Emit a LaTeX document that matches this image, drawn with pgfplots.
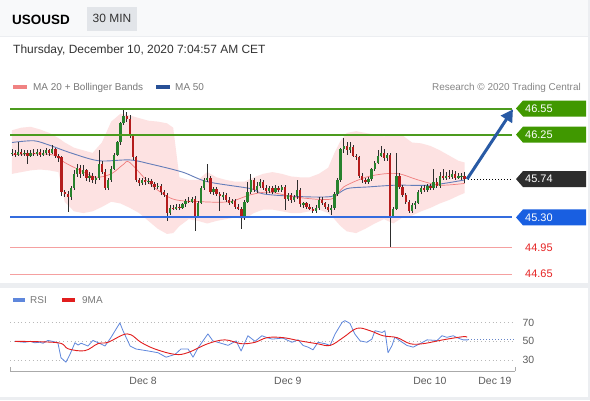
\documentclass[border=0pt]{standalone}
\usepackage{fontspec}
\setmainfont{Liberation Sans}
\usepackage{pgfplots}
\usepackage{pgfplotstable}
\pgfplotsset{compat=1.18}
\usetikzlibrary{arrows.meta}

\definecolor{bgframe}{RGB}{236,238,241}
\definecolor{headbg}{RGB}{248,249,250}
\definecolor{tagbg}{RGB}{226,229,233}
\definecolor{leg20}{RGB}{240,130,130}
\definecolor{leg50}{RGB}{40,80,150}
\definecolor{lvgreen}{RGB}{76,155,30}
\definecolor{boxgreen}{RGB}{64,152,0}
\definecolor{boxdark}{RGB}{45,45,45}
\definecolor{supportblue}{RGB}{52,108,222}
\definecolor{boxblue}{RGB}{25,95,225}
\definecolor{lvred}{RGB}{245,160,160}
\definecolor{txtred}{RGB}{230,35,35}
\definecolor{bbpink}{RGB}{253,226,226}
\definecolor{ma20}{RGB}{240,125,125}
\definecolor{ma50}{RGB}{100,125,185}
\definecolor{cup}{RGB}{40,130,45}
\definecolor{cdn}{RGB}{180,28,28}
\definecolor{wick}{RGB}{45,45,45}
\definecolor{arrowblue}{RGB}{40,90,165}
\definecolor{rsiblue}{RGB}{95,135,220}
\definecolor{rsired}{RGB}{225,30,30}
\definecolor{axisgray}{RGB}{170,170,170}
\definecolor{txtgray}{RGB}{120,120,120}
\definecolor{txtdark}{RGB}{51,51,51}

\newcommand{\lblfont}{\fontsize{11}{13}\selectfont}
\newcommand{\lvlbox}[3]{%
  \fill[#2] ([xshift=4bp]#1) -- ++(7bp,8bp) -- ++(63bp,0) -- ++(0,-16bp) -- ++(-63bp,0) -- cycle;
  \node[anchor=west, inner sep=0pt, text=white, font=\lblfont] at ([xshift=13bp]#1) {#3};}

% candles: index, open, high, low, close
\pgfplotstableread{
i o h l c
0 46.03 46.08 46.00 46.04
1 46.04 46.07 45.99 46.02
2 46.02 46.16 46.01 46.05
3 46.05 46.08 46.01 46.03
4 46.03 46.07 46.00 46.04
5 46.04 46.07 45.91 46.01
6 46.01 46.07 45.99 46.04
7 46.04 46.08 46.00 46.03
8 46.03 46.09 46.01 46.05
9 46.05 46.08 45.99 46.02
10 46.02 46.07 46.00 46.04
11 46.04 46.10 46.02 46.07
12 46.07 46.09 46.01 46.04
13 46.04 46.13 46.03 46.09
14 46.09 46.10 45.98 46.01
15 46.01 46.03 45.94 45.98
16 45.99 46.01 45.54 45.59
17 45.59 45.62 45.53 45.57
18 45.57 45.60 45.36 45.53
19 45.53 45.66 45.50 45.64
20 45.64 45.84 45.62 45.80
21 45.80 45.91 45.76 45.87
22 45.87 45.90 45.75 45.80
23 45.80 45.90 45.77 45.84
24 45.84 45.86 45.72 45.75
25 45.75 45.82 45.71 45.78
26 45.78 45.81 45.69 45.73
27 45.73 45.78 45.68 45.75
28 45.75 46.07 45.73 45.91
29 45.91 45.95 45.80 45.82
30 45.82 45.85 45.62 45.64
31 45.64 45.75 45.62 45.73
32 45.73 45.89 45.71 45.86
33 45.86 46.04 45.84 46.02
34 46.02 46.18 46.00 46.16
35 46.16 46.40 46.13 46.38
36 46.38 46.54 46.36 46.46
37 46.46 46.51 46.39 46.43
38 46.43 46.47 46.21 46.24
39 46.24 46.26 45.96 45.99
40 45.99 46.01 45.71 45.73
41 45.73 45.75 45.66 45.69
42 45.69 45.75 45.67 45.73
43 45.73 45.76 45.67 45.71
44 45.71 45.75 45.68 45.72
45 45.72 45.74 45.65 45.68
46 45.68 45.71 45.62 45.65
47 45.65 45.69 45.63 45.66
48 45.66 45.68 45.56 45.59
49 45.59 45.62 45.53 45.56
50 45.56 45.58 45.26 45.35
51 45.35 45.44 45.33 45.41
52 45.41 45.44 45.38 45.40
53 45.40 45.45 45.39 45.42
54 45.42 45.45 45.39 45.41
55 45.41 45.47 45.40 45.45
56 45.45 45.51 45.42 45.49
57 45.49 45.53 45.46 45.48
58 45.48 45.54 45.47 45.51
59 45.51 45.54 45.14 45.32
60 45.32 45.49 45.30 45.47
61 45.47 45.66 45.45 45.64
62 45.64 45.75 45.62 45.73
63 45.73 45.91 45.71 45.75
64 45.75 45.77 45.57 45.59
65 45.59 45.65 45.56 45.63
66 45.63 45.65 45.54 45.57
67 45.57 45.59 45.37 45.54
68 45.54 45.59 45.50 45.56
69 45.56 45.58 45.48 45.50
70 45.50 45.53 45.44 45.47
71 45.47 45.51 45.45 45.49
72 45.49 45.51 45.40 45.42
73 45.42 45.45 45.38 45.40
74 45.40 45.42 45.17 45.29
75 45.29 45.50 45.27 45.48
76 45.48 45.71 45.46 45.59
77 45.59 45.80 45.57 45.73
78 45.73 45.75 45.59 45.62
79 45.62 45.71 45.58 45.66
80 45.66 45.74 45.64 45.71
81 45.71 45.73 45.62 45.64
82 45.64 45.67 45.57 45.60
83 45.60 45.66 45.58 45.64
84 45.64 45.66 45.57 45.59
85 45.59 45.67 45.58 45.64
86 45.64 45.66 45.59 45.62
87 45.62 45.67 45.59 45.65
88 45.65 45.67 45.39 45.51
89 45.51 45.58 45.49 45.56
90 45.56 45.58 45.47 45.50
91 45.50 45.56 45.48 45.54
92 45.54 45.73 45.51 45.62
93 45.62 45.64 45.42 45.45
94 45.45 45.48 45.41 45.46
95 45.46 45.48 45.40 45.42
96 45.42 45.45 45.38 45.40
97 45.40 45.42 45.35 45.37
98 45.37 45.44 45.35 45.41
99 45.41 45.53 45.39 45.50
100 45.50 45.53 45.44 45.46
101 45.46 45.48 45.40 45.42
102 45.42 45.45 45.36 45.38
103 45.38 45.44 45.33 45.41
104 45.41 45.59 45.39 45.57
105 45.57 45.75 45.55 45.73
106 45.73 46.10 45.71 46.08
107 46.08 46.21 46.04 46.12
108 46.12 46.16 46.02 46.07
109 46.07 46.16 46.04 46.11
110 46.11 46.13 45.99 46.01
111 46.01 46.03 45.96 45.99
112 45.99 46.01 45.75 45.78
113 45.78 45.81 45.69 45.73
114 45.73 45.75 45.68 45.71
115 45.71 45.76 45.68 45.74
116 45.74 45.87 45.72 45.85
117 45.85 45.95 45.83 45.93
118 45.93 46.07 45.91 46.01
119 46.01 46.12 45.99 46.04
120 46.04 46.08 45.95 45.98
121 45.98 46.04 45.95 46.02
122 46.02 46.04 44.95 45.31
123 45.31 45.42 45.29 45.40
124 45.40 46.04 45.38 45.78
125 45.78 45.81 45.63 45.65
126 45.65 45.67 45.54 45.56
127 45.56 45.58 45.45 45.48
128 45.48 45.50 45.35 45.37
129 45.37 45.46 45.35 45.44
130 45.44 45.49 45.40 45.47
131 45.47 45.62 45.45 45.59
132 45.59 45.66 45.57 45.64
133 45.64 45.67 45.59 45.62
134 45.62 45.68 45.59 45.66
135 45.66 45.68 45.62 45.64
136 45.64 45.85 45.62 45.71
137 45.71 45.75 45.64 45.66
138 45.66 45.82 45.64 45.78
139 45.78 45.85 45.73 45.75
140 45.75 45.82 45.73 45.78
141 45.78 45.84 45.74 45.76
142 45.76 45.84 45.74 45.80
143 45.80 45.83 45.73 45.75
144 45.75 45.81 45.74 45.77
145 45.77 45.81 45.73 45.78
146 45.78 45.82 45.69 45.74
}\candles

\pgfplotstableread{
i v
0.9 50
2.5 49.5
4.1 49
6 50
7.3 48.5
9 49
10 48
11.6 51
13 50
14.8 48.5
15.8 32.4
17.4 27.7
18.7 36
20.3 48.5
21.3 46
22.3 48
24.5 45
26.1 51
28.4 47.6
30 45
31.9 54
34.8 69.8
35.8 61.4
38.1 45
40 41.8
43.9 39.7
47.1 37.8
49.7 33
52.6 36
54.5 41.8
56.8 41.8
58.4 33
60 42.9
63.2 58
64.8 50.5
67.4 48
69.7 45.7
72.3 50.5
73.9 39.7
76.1 56
78.4 50
80.6 56
82.3 54
83.9 52.4
87.4 53.5
90.3 49
92.3 51.6
93.9 45.6
95.5 43.8
97.1 40.9
98.7 49
101 47.5
102.6 45.6
104.2 57.8
106.5 70.4
107.4 72.2
109 69.3
110.6 57.8
112.3 50.5
114.5 49
116.1 52.4
117.1 61.4
119.4 59.5
120.3 61.4
121.3 37.8
122.6 45.6
123.5 54.5
125.2 50.5
127.4 45.6
129.4 43.8
131.6 47.5
133.9 51.6
137.1 50.9
138.7 56
140.3 54.3
142.3 56
143.9 53.5
145.5 51.6
147.1 51.6
}\rsi

\pgfplotstableread{
i v
1 50
14.8 48.5
18.1 42
23.5 40
27.7 47.5
31 49
35.8 57
38.4 57
41.6 49
46.1 41.8
52.6 36
56.8 38
63.2 47.5
68.7 51.6
73.9 47.5
78.4 49
82.3 54
87.4 54
92.9 50.5
98.4 47.5
102.6 45.6
106.8 54
111.3 64
115.5 61.4
119.7 56
124.2 54
128.4 47.5
132.6 47.5
139 51.6
145.5 55
146.8 54.3
}\rsima

\begin{document}
\begin{tikzpicture}[x=1bp,y=1bp]
\useasboundingbox (0,0) rectangle (590,400);
\fill[bgframe] (0,0) rectangle (590,400);
\fill[headbg] (0,364) rectangle (588,400);
\fill[white] (0,117) rectangle (588,363);
\fill[white] (0,3) rectangle (588,112);

% header
\node[anchor=base west, inner sep=0pt, text=black, font=\fontsize{13.5}{16}\selectfont\bfseries] at (12,375.5) {USOUSD};
\fill[tagbg] (87,369) rectangle (137,393);
\node[anchor=base, inner sep=0pt, text=txtdark, font=\fontsize{12}{14}\selectfont] at (112,377.5) {30 MIN};
\node[anchor=base west, inner sep=0pt, text=txtdark, font=\fontsize{12}{14}\selectfont] at (13,346.5) {Thursday, December 10, 2020 7:04:57 AM CET};

% legend of main panel
\fill[leg20] (13,311.5) rectangle (27,315);
\node[anchor=base west, inner sep=0pt, text=txtgray, font=\fontsize{10}{12}\selectfont] at (33,310) {MA 20 + Bollinger Bands};
\fill[leg50] (156,311.5) rectangle (170,315);
\node[anchor=base west, inner sep=0pt, text=txtgray, font=\fontsize{10}{12}\selectfont] at (175,310) {MA 50};
\node[anchor=base east, inner sep=0pt, text=txtgray!90, font=\fontsize{10}{12}\selectfont] at (581,310) {Research \textcopyright{} 2020 Trading Central};

% main price axis
\begin{axis}[
  at={(10bp,118.5bp)}, anchor=south west, scale only axis,
  width=502bp, height=185bp,
  xmin=-0.645, xmax=161.29, ymin=44.564, ymax=46.688,
  axis lines=none, xtick=\empty, ytick=\empty, clip=false]
  % Bollinger band area (upper forward, lower back)
  \addplot[fill=bbpink, draw=none, forget plot] coordinates {
    (0,46.30) (3,46.33) (6,46.34) (9,46.31) (12,46.27) (15,46.21) (17,46.16) (20,46.10)
    (23,46.07) (26,46.04) (29,46.16) (32,46.40) (35,46.49) (38,46.47) (41,46.44) (44,46.41)
    (47,46.40) (50,46.38) (52,46.33) (54,45.76) (57,45.73) (60,45.73) (63,45.82) (66,45.76)
    (69,45.73) (72,45.71) (75,45.71) (78,45.76) (81,45.80) (84,45.82) (87,45.80) (90,45.77)
    (93,45.76) (96,45.76) (99,45.80) (102,45.87) (104,46.04) (106,46.18) (108,46.27) (111,46.29)
    (114,46.27) (117,46.25) (120,46.23) (123,46.25) (126,46.24) (129,46.16) (132,46.15)
    (135,46.12) (138,46.07) (141,46.01) (144,45.95) (146,45.93)
    (146,45.58) (144,45.55) (141,45.50) (138,45.46) (135,45.41) (132,45.37) (129,45.32)
    (126,45.30) (123,45.23) (120,45.28) (117,45.23) (114,45.17) (111,45.12) (108,45.14)
    (106,45.20) (104,45.28) (102,45.35) (99,45.39) (96,45.37) (93,45.35) (90,45.35) (87,45.37)
    (84,45.39) (81,45.39) (78,45.35) (75,45.28) (72,45.30) (69,45.28) (66,45.26) (63,45.23)
    (60,45.26) (57,45.28) (54,45.20) (52,45.12) (50,45.11) (47,45.17) (44,45.26) (41,45.35)
    (38,45.41) (35,45.46) (32,45.48) (29,45.42) (26,45.37) (23,45.35) (20,45.37) (17,45.48)
    (15,45.82) (12,45.84) (9,45.85) (6,45.84) (3,45.82) (0,45.80)};
  % moving averages
  \addplot[draw=ma50, line width=0.9bp, smooth, tension=0.5, forget plot] coordinates {
    (0,46.16) (7,46.18) (12,46.13) (19,46.04) (28,45.95) (38,45.96) (45,45.91) (55,45.82)
    (63,45.71) (77,45.63) (81,45.57) (92,45.54) (103,45.54) (108,45.63) (115,45.65)
    (124,45.67) (135,45.67) (146,45.73)};
  \addplot[draw=ma20, line width=0.7bp, smooth, tension=0.5, forget plot] coordinates {
    (0,46.02) (9,46.03) (14,46.01) (17,45.93) (22,45.84) (27,45.76) (32,45.80) (36,45.91)
    (38,45.93) (45,45.67) (52,45.51) (61,45.48) (70,45.48) (77,45.56) (83,45.59) (92,45.53)
    (103,45.51) (107,45.65) (114,45.76) (120,45.80) (125,45.80) (131,45.73) (138,45.67) (146,45.69)};
  % candle wicks
  \addplot[draw=none, mark=none, forget plot,
    error bars/.cd, y dir=both, y explicit, error mark=none,
    error bar style={draw=wick, line width=0.55bp}]
    table[x=i, y expr={(\thisrow{h}+\thisrow{l})/2}, y error expr={(\thisrow{h}-\thisrow{l})/2}] {\candles};
  % up bodies
  \addplot[draw=none, mark=none, forget plot,
    restrict expr to domain={\thisrow{c}-\thisrow{o}}{0:10},
    error bars/.cd, y dir=both, y explicit, error mark=none,
    error bar style={draw=cup, line width=2.3bp}]
    table[x=i, y expr={(\thisrow{o}+\thisrow{c})/2}, y error expr={max(abs(\thisrow{c}-\thisrow{o})/2,0.005)}] {\candles};
  % down bodies
  \addplot[draw=none, mark=none, forget plot,
    restrict expr to domain={\thisrow{c}-\thisrow{o}}{-10:-0.0001},
    error bars/.cd, y dir=both, y explicit, error mark=none,
    error bar style={draw=cdn, line width=2.3bp}]
    table[x=i, y expr={(\thisrow{o}+\thisrow{c})/2}, y error expr={max(abs(\thisrow{c}-\thisrow{o})/2,0.005)}] {\candles};
  % level lines (on top of candles)
  \addplot[draw=lvgreen, line width=2bp, forget plot] coordinates {(-0.645,46.55) (161.29,46.55)};
  \addplot[draw=lvgreen, line width=2bp, forget plot] coordinates {(-0.645,46.25) (161.29,46.25)};
  \addplot[draw=supportblue, line width=1.8bp, forget plot] coordinates {(-0.645,45.3) (161.29,45.3)};
  \addplot[draw=lvred, line width=1bp, forget plot] coordinates {(-0.645,44.95) (161.29,44.95)};
  \addplot[draw=lvred, line width=1bp, forget plot] coordinates {(-0.645,44.65) (161.29,44.65)};
  % last price dotted line and forecast arrow
  \addplot[draw=black, line width=0.9bp, dash pattern=on 1bp off 2bp, forget plot] coordinates {(147.2,45.74) (161.29,45.74)};
  \addplot[draw=arrowblue, line width=3bp, -{Triangle[length=12bp,width=13bp]}, forget plot] coordinates {(146.8,45.74) (161.6,46.54)};
  \coordinate (L1) at (axis cs:161.29,46.55);
  \coordinate (L2) at (axis cs:161.29,46.25);
  \coordinate (L3) at (axis cs:161.29,45.74);
  \coordinate (L4) at (axis cs:161.29,45.30);
  \coordinate (L5) at (axis cs:161.29,44.95);
  \coordinate (L6) at (axis cs:161.29,44.65);
\end{axis}

\lvlbox{L1}{boxgreen}{46.55}
\lvlbox{L2}{boxgreen}{46.25}
\lvlbox{L3}{boxdark}{45.74}
\lvlbox{L4}{boxblue}{45.30}
\node[anchor=west, inner sep=0pt, text=txtred, font=\lblfont] at ([xshift=13bp]L5) {44.95};
\node[anchor=west, inner sep=0pt, text=txtred, font=\lblfont] at ([xshift=13bp]L6) {44.65};

% RSI legend
\fill[rsiblue] (13,98) rectangle (25,102);
\node[anchor=base west, inner sep=0pt, text=txtgray, font=\fontsize{10}{12}\selectfont] at (30,96.5) {RSI};
\fill[rsired] (62,98) rectangle (75,102);
\node[anchor=base west, inner sep=0pt, text=txtgray, font=\fontsize{10}{12}\selectfont] at (82,96.5) {9MA};

% RSI axis
\begin{axis}[
  at={(10bp,29bp)}, anchor=south west, scale only axis,
  width=505bp, height=65bp,
  xmin=-0.645, xmax=162.26, ymin=18.2, ymax=87.9,
  axis x line*=bottom, axis y line*=right,
  x axis line style={draw=axisgray, line width=0.8bp},
  y axis line style={draw=none},
  ytick={30,50,70}, ytick style={draw=none},
  ymajorgrids, major grid style={draw=gray!55, line width=0.7bp, dash pattern=on 0.8bp off 3bp},
  yticklabel style={font=\fontsize{10.5}{12}\selectfont, text=txtdark!80, xshift=4bp},
  /pgf/number format/assume math mode=true,
  xtick={42.3,89,134.8,155.8}, xticklabels={Dec 8,Dec 9,Dec 10,Dec 19},
  xtick style={draw=none},
  xticklabel style={font=\fontsize{10.5}{12}\selectfont, text=txtdark!80, yshift=-3bp},
  extra x ticks={-0.645,162.26}, extra x tick labels={},
  extra x tick style={xtick style={draw=axisgray, line width=0.8bp}, tick align=inside, major tick length=4bp},
  clip=false]
  \addplot[draw=rsiblue, line width=0.8bp, line join=round, forget plot] table[x=i, y=v] {\rsi};
  \addplot[draw=rsired, line width=0.9bp, smooth, tension=0.6, forget plot] table[x=i, y=v] {\rsima};
  \addplot[draw=rsiblue!80!gray, line width=1bp, dash pattern=on 1bp off 2bp, forget plot] coordinates {(147.1,51.6) (162.26,51.6)};
\end{axis}
\end{tikzpicture}
\end{document}
